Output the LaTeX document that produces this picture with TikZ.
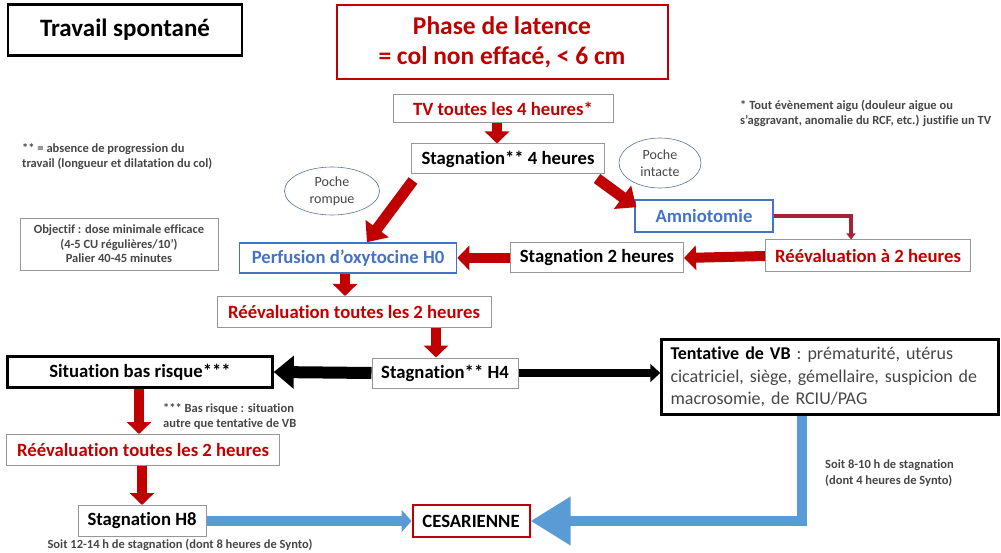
\documentclass[tikz,border=0pt]{standalone}
\usepackage{fontspec}
\setmainfont{Carlito}[Ligatures=NoCommon]
\usetikzlibrary{arrows.meta,shapes.geometric}
\definecolor{rouge}{RGB}{192,0,0}
\definecolor{bordeau}{RGB}{165,35,55}
\definecolor{bleu}{RGB}{68,114,196}
\definecolor{bleuclair}{RGB}{91,155,213}
\definecolor{gris}{RGB}{150,150,150}
\definecolor{grisfonce}{RGB}{70,70,70}
\definecolor{ovale}{RGB}{90,115,150}
\begin{document}
\begin{tikzpicture}
      [x=1pt,y=-1pt,
       boite/.style={rectangle,draw=gris,line width=1pt,inner sep=0pt,
         font=\bfseries\fontsize{18.7}{22}\selectfont},
       boiterouge/.style={boite,text=rouge},
       boitebleue/.style={boite,draw=bleu,line width=1.5pt,text=bleu},
       boitenoire/.style={boite,draw=black,line width=2.5pt},
       bulle/.style={ellipse,draw=ovale,line width=0.6pt,inner sep=0pt,align=center,
         text=grisfonce,font=\fontsize{14}{17}\selectfont},
       note/.style={anchor=north west,inner sep=0pt,align=left,text=grisfonce,
         font=\bfseries\fontsize{12.5}{15.5}\selectfont},
       fleche/.style={draw=rouge,line width=10pt,-{Triangle[width=24pt,length=12pt]}},
       flechediag/.style={draw=rouge,line width=11pt,-{Triangle[width=28pt,length=17pt]}},
       flechefine/.style={draw=bordeau,line width=3.5pt,-{Triangle[width=9pt,length=6pt]}},
       flechenoire/.style={draw=black,line width=12pt,-{Triangle[width=32pt,length=20pt]}},
       flechenoirefine/.style={draw=black,line width=8pt,-{Triangle[width=18pt,length=10pt]}},
       flechebleue/.style={draw=bleuclair,line width=10pt,-{Triangle[width=22pt,length=10pt]}},
       grandebleue/.style={draw=bleuclair,line width=10pt,-{Triangle[width=46pt,length=40pt]}}]
      \useasboundingbox (0,0) rectangle (1001,553);
      \node[boitenoire,minimum width=234pt,minimum height=51pt,
        font=\bfseries\fontsize{25}{30}\selectfont] (travail) at (125,30) {Travail spontané};
      \node[rectangle,draw=rouge,line width=2pt,text=rouge,align=center,
        minimum width=331pt,minimum height=74pt,
        font=\bfseries\fontsize{25.5}{30}\selectfont] (phase) at (502,42)
        {Phase de latence\\= col non effacé, < 6 cm};
      \node[boiterouge,minimum width=220pt,minimum height=28pt] (tv) at (503,109) {TV toutes les 4 heures*};
      \node[boite,minimum width=193pt,minimum height=30pt] (stagA) at (508,159) {Stagnation** 4 heures};
      \node[bulle,minimum width=95pt,minimum height=48pt] (rompue) at (332,191) {Poche\\rompue};
      \node[bulle,minimum width=82pt,minimum height=50pt] (intacte) at (660,163) {Poche\\intacte};
      \node[boitebleue,minimum width=138pt,minimum height=32pt] (amnio) at (704,216) {Amniotomie};
      \node[boiterouge,minimum width=205pt,minimum height=32pt] (reevalA) at (868,256) {Réévaluation à 2 heures};
      \node[boite,minimum width=173pt,minimum height=30pt] (stagB) at (597,258) {Stagnation 2 heures};
      \node[boitebleue,minimum width=217pt,minimum height=30pt] (perf) at (348,258) {Perfusion d’oxytocine H0};
      \node[boiterouge,minimum width=274pt,minimum height=31pt] (reevalB) at (354,312) {Réévaluation toutes les 2 heures};
      \node[boite,minimum width=146pt,minimum height=30pt] (stagH4) at (445,373) {Stagnation** H4};
      \node[boitenoire,minimum width=337pt,minimum height=75pt,align=left,inner xsep=9pt,
        text width=319pt,font=\fontsize{18}{22.5}\selectfont] (tenta) at (830,377)
        {\textbf{Tentative de VB} \textcolor{grisfonce}{: prématurité, utérus}\\
         \textcolor{grisfonce}{cicatriciel, siège, gémellaire, suspicion de}\\
         \textcolor{grisfonce}{macrosomie, de RCIU/PAG}};
      \node[boitenoire,minimum width=265pt,minimum height=31pt] (basrisque) at (140,372) {Situation bas risque***};
      \node[boiterouge,minimum width=273pt,minimum height=31pt] (reevalC) at (143,450) {Réévaluation toutes les 2 heures};
      \node[boite,minimum width=128pt,minimum height=31pt] (stagH8) at (142,521) {Stagnation H8};
      \node[boite,draw=rouge,line width=2pt,minimum width=117pt,minimum height=32pt] (cesar) at (471,521) {CESARIENNE};
      \node[note] (noteA) at (22,143) {** = absence de progression du\\travail (longueur et dilatation du col)};
      \node[note] (noteB) at (740,100) {* Tout évènement aigu (douleur aigue ou\\s’aggravant, anomalie du RCF, etc.) justifie un TV};
      \node[rectangle,draw=gris,line width=0.8pt,minimum width=198pt,minimum height=52pt,align=center,
        inner sep=0pt,text=grisfonce,font=\bfseries\fontsize{12.5}{14.5}\selectfont] (objectif) at (119,244)
        {Objectif : dose minimale efficace\\(4-5 CU régulières/10’)\\Palier 40-45 minutes};
      \node[note] (noteC) at (163,403) {*** Bas risque : situation\\autre que tentative de VB};
      \node[note,anchor=center] (noteD) at (180,545) {Soit 12-14 h de stagnation (dont 8 heures de Synto)};
      \node[note] (noteE) at (825,460) {Soit 8-10 h de stagnation\\(dont 4 heures de Synto)};
      \draw[fleche] ([xshift=-6pt]tv.south) -- ([xshift=-6pt]tv.south |- stagA.north);
      \draw[flechediag] ([shift={(2,6)}]stagA.south west) -- ([xshift=19pt]perf.north);
      \draw[flechediag] ([shift={(-8,4)}]stagA.south east) -- ([shift={(2,8)}]amnio.north west);
      \draw[flechefine] (amnio.east) -| ([xshift=-17pt]reevalA.north);
      \draw[fleche] (reevalA.west) -- (stagB.east);
      \draw[fleche] (stagB.west) -- (perf.east);
      \draw[fleche] ([xshift=-3pt]perf.south) -- ([xshift=-3pt]perf.south |- reevalB.north);
      \draw[fleche] ([xshift=-9pt]stagH4.north |- reevalB.south) -- ([xshift=-9pt]stagH4.north);
      \draw[flechenoire] (stagH4.west) -- (basrisque.east);
      \draw[flechenoirefine] (stagH4.east) -- (tenta.west |- stagH4.east);
      \draw[fleche] ([xshift=-1pt]basrisque.south) -- ([xshift=-1pt]basrisque.south |- reevalC.north);
      \draw[fleche] ([xshift=-1pt]reevalC.south) -- ([xshift=-1pt]reevalC.south |- stagH8.north);
      \draw[flechebleue] (stagH8.east) -- (cesar.west);
      \draw[grandebleue] ([xshift=-28pt]tenta.south) |- (cesar.east);
    \end{tikzpicture}
\end{document}
